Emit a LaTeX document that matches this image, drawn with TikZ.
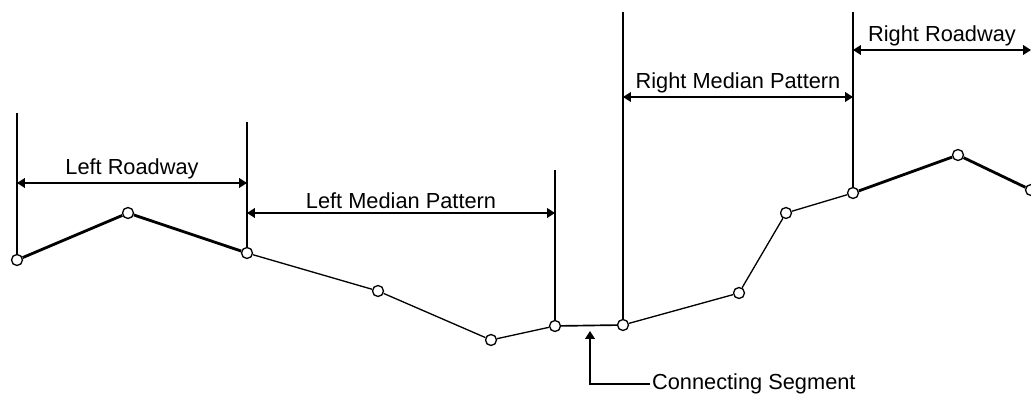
\documentclass[tikz,border=0pt]{standalone}
\usepackage{fontspec}
\setmainfont{Liberation Sans}
\usetikzlibrary{arrows.meta}

\begin{document}
\begin{tikzpicture}[
    x=0.02cm, y=-0.02cm,
    pt/.style={circle, draw, fill=white, minimum size=0.22cm, inner sep=0pt, line width=0.75pt},
    ground/.style={line width=0.75pt},
    road/.style={line width=1.6pt},
    guide/.style={line width=0.95pt},
    dim/.style={{Triangle[length=4.5pt,width=5.5pt]}-{Triangle[length=4.5pt,width=5.5pt]}, line width=0.85pt},
    arrow/.style={-{Triangle[length=4.5pt,width=5.5pt]}, line width=0.85pt},
    lbl/.style={font=\fontsize{12.4}{14}\selectfont, above, inner sep=2pt},
]
    \useasboundingbox (0,0) rectangle (1031,394);

    % section points
    \node[pt] (p1) at (17,260) {};
    \node[pt] (p2) at (128,213) {};
    \node[pt] (p3) at (247,253) {};
    \node[pt] (p4) at (378,291) {};
    \node[pt] (p5) at (491,340) {};
    \node[pt] (p6) at (555,326) {};
    \node[pt] (p7) at (623,325) {};
    \node[pt] (p8) at (739,293) {};
    \node[pt] (p9) at (786,213) {};
    \node[pt] (p10) at (853,193) {};
    \node[pt] (p11) at (958,155) {};
    \node[pt] (p12) at (1031,190) {};

    % tops of the guide lines
    \coordinate (t1) at (17,113);
    \coordinate (t3) at (247,122);
    \coordinate (t6) at (555,170);
    \coordinate (t7) at (623,12);
    \coordinate (t10) at (853,12);
    \coordinate (rrend) at (1031,50);

    \draw[road] (p1) -- (p2);
    \draw[road] (p2) -- (p3);
    \draw[ground] (p3) -- (p4);
    \draw[ground] (p4) -- (p5);
    \draw[ground] (p5) -- (p6);
    \draw[guide] (p6) -- (p7);
    \draw[ground] (p7) -- (p8);
    \draw[ground] (p8) -- (p9);
    \draw[ground] (p9) -- (p10);
    \draw[road] (p10) -- (p11);
    \draw[road] (p11) -- (p12);

    \draw[guide] (p1) -- (t1);
    \draw[guide] (p3) -- (t3);
    \draw[guide] (p6) -- (t6);
    \draw[guide] (p7) -- (t7);
    \draw[guide] (p10) -- (t10);

    \draw[dim] (p1 |- 0,183) -- node[lbl] {Left Roadway} (p3 |- 0,183);
    \draw[dim] (p3 |- 0,213) -- node[lbl] {Left Median Pattern} (p6 |- 0,213);
    \draw[dim] (p7 |- 0,97) -- node[lbl] {Right Median Pattern} (p10 |- 0,97);
    \draw[dim] (p10 |- 0,50) -- node[lbl] {Right Roadway} (rrend);

    % connecting segment callout
    \node[font=\fontsize{12.4}{14}\selectfont, anchor=west, inner sep=1pt] (cs) at (650,384) {Connecting Segment};
    \coordinate (cstip) at (590,331);
    \draw[arrow] (cs.west) -| (cstip);
\end{tikzpicture}
\end{document}
